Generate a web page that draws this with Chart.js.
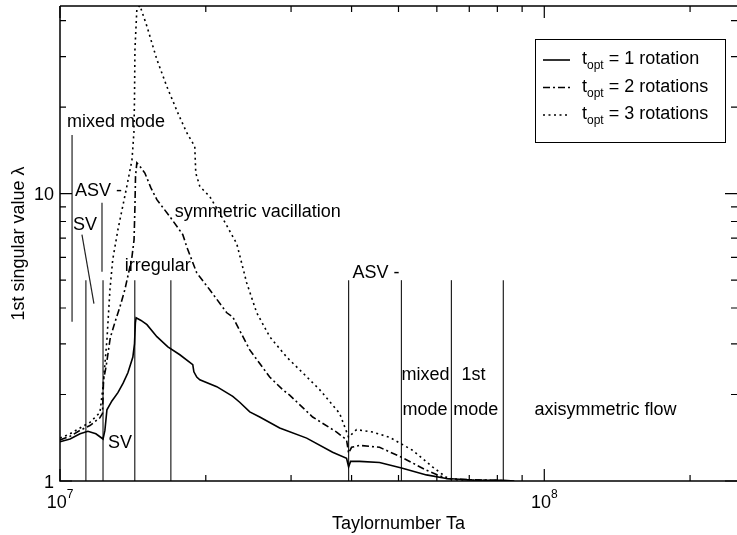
<!DOCTYPE html>
<html>
<head>
<meta charset="utf-8">
<script src="https://cdn.jsdelivr.net/npm/chart.js@4.4.1/dist/chart.umd.min.js"></script>
<style>
html,body{margin:0;padding:0;background:#fff;}
#wrap{width:737px;height:535px;}
</style>
</head>
<body>
<div id="wrap"><canvas id="c" width="737" height="535"></canvas></div>
<script>
// ---- data ----
const taRot1 = [1.000e7,1.049e7,1.100e7,1.142e7,1.186e7,1.227e7,1.238e7,1.250e7,1.280e7,1.317e7,1.350e7,1.381e7,1.414e7,1.425e7,1.431e7,1.436e7,1.470e7,1.512e7,1.585e7,1.670e7,1.768e7,1.880e7,1.890e7,1.916e7,1.944e7,2.107e7,2.274e7,2.350e7,2.465e7,2.585e7,2.842e7,3.231e7,3.655e7,3.906e7,3.944e7,3.981e7,4.155e7,4.569e7,5.072e7,5.710e7,6.279e7,7.105e7,8.231e7,8.672e7];
const lamRot1 = [1.37,1.40,1.46,1.49,1.46,1.40,1.50,1.77,1.90,2.03,2.19,2.38,2.70,3.00,3.55,3.70,3.62,3.50,3.18,2.93,2.75,2.54,2.40,2.30,2.25,2.13,1.97,1.88,1.74,1.67,1.53,1.41,1.26,1.20,1.12,1.17,1.17,1.16,1.11,1.05,1.02,1.008,1.005,1.0];

const taRot2 = [1.000e7,1.049e7,1.100e7,1.153e7,1.209e7,1.224e7,1.230e7,1.245e7,1.270e7,1.298e7,1.330e7,1.361e7,1.390e7,1.408e7,1.422e7,1.428e7,1.432e7,1.441e7,1.460e7,1.497e7,1.540e7,1.585e7,1.686e7,1.793e7,1.827e7,1.916e7,2.038e7,2.210e7,2.274e7,2.465e7,2.710e7,2.883e7,2.980e7,3.324e7,3.725e7,3.906e7,3.944e7,4.000e7,4.155e7,4.569e7,5.072e7,5.710e7,6.279e7,7.000e7,8.000e7,8.500e7];
const lamRot2 = [1.39,1.43,1.50,1.56,1.66,1.72,2.25,2.50,3.15,3.56,4.04,4.63,5.43,6.03,6.90,9.00,11.5,12.8,12.5,11.8,10.5,9.53,8.32,7.20,6.53,5.30,4.63,3.85,3.72,2.86,2.30,2.08,1.99,1.67,1.48,1.39,1.25,1.31,1.33,1.31,1.21,1.09,1.02,1.01,1.005,1.0];

const taRot3 = [1.000e7,1.049e7,1.100e7,1.153e7,1.209e7,1.227e7,1.250e7,1.268e7,1.285e7,1.317e7,1.374e7,1.408e7,1.421e7,1.425e7,1.428e7,1.441e7,1.462e7,1.512e7,1.585e7,1.662e7,1.751e7,1.827e7,1.898e7,1.907e7,1.944e7,2.038e7,2.168e7,2.317e7,2.429e7,2.548e7,2.710e7,2.938e7,3.170e7,3.436e7,3.779e7,3.944e7,4.096e7,4.420e7,4.791e7,5.344e7,5.875e7,6.279e7,6.522e7,7.500e7,8.500e7];
const lamRot3 = [1.41,1.46,1.53,1.60,1.73,2.13,3.10,4.63,5.90,7.49,10.6,13.1,16.3,21.3,31.7,43.8,45.2,38.2,29.3,23.6,19.1,16.3,14.6,11.8,10.6,9.77,8.20,6.70,4.90,3.85,3.18,2.70,2.38,2.08,1.72,1.42,1.51,1.48,1.42,1.28,1.12,1.03,1.01,1.005,1.0];

const seriesNames = ['1 rotation','2 rotations','3 rotations'];

// axis ticks
const xTickValues = [1e7,2e7,3e7,4e7,5e7,6e7,7e7,8e7,9e7,1e8,2e8];
const xMajorValues = [1e7,1e8];
const xMajorExponents = ['7','8'];
const yTickValues = [1,2,3,4,5,6,7,8,9,10,20,30,40];
const yMajorValues = [1,10];
const yMajorLabels = ['1','10'];

// regime boundaries (Ta) and annotation lines / labels (data units)
const boundaryTa = [1.131e7,1.227e7,1.427e7,1.694e7,3.944e7,5.07e7,6.43e7,8.23e7];
const boundaryLam = [1.0,5.0];
const leaderTa0 = [1.059e7,1.221e7,1.110e7];
const leaderLam0 = [16.0,9.3,7.2];
const leaderTa1 = [1.059e7,1.221e7,1.175e7];
const leaderLam1 = [3.58,5.35,4.14];
const regimeText = ['mixed mode','ASV -','SV','irregular','symmetric vacillation','SV','ASV -','mixed','1st','mode','mode','axisymmetric flow'];
const regimeTa = [1.034e7,1.074e7,1.064e7,1.361e7,1.726e7,1.256e7,4.018e7,5.07e7,6.745e7,5.095e7,6.49e7,9.54e7];
const regimeLam = [17.0,9.84,7.49,5.39,8.32,1.30,5.10,2.25,2.25,1.70,1.70,1.70];

const xTitle = 'Taylornumber Ta';
const yTitle = '1st singular value \u03bb';

// ---- chart ----
const FONT = '"Liberation Sans", Arial, Helvetica, sans-serif';
function pts(xs, ys){ return xs.map((x,i)=>({x:x, y:ys[i]})); }

const decor = {
  id: 'decor',
  beforeDatasetsDraw(chart){
    const ctx = chart.ctx, xs = chart.scales.x, ys = chart.scales.y;
    ctx.save();
    ctx.strokeStyle = '#222';
    ctx.lineWidth = 1.2;
    ctx.setLineDash([]);
    boundaryTa.forEach(t=>{
      const px = xs.getPixelForValue(t);
      ctx.beginPath();
      ctx.moveTo(px, ys.getPixelForValue(boundaryLam[1]));
      ctx.lineTo(px, ys.getPixelForValue(boundaryLam[0]));
      ctx.stroke();
    });
    leaderTa0.forEach((t,i)=>{
      ctx.beginPath();
      ctx.moveTo(xs.getPixelForValue(t), ys.getPixelForValue(leaderLam0[i]));
      ctx.lineTo(xs.getPixelForValue(leaderTa1[i]), ys.getPixelForValue(leaderLam1[i]));
      ctx.stroke();
    });
    ctx.restore();
  },
  afterDraw(chart){
    const ctx = chart.ctx, xs = chart.scales.x, ys = chart.scales.y;
    const a = chart.chartArea;
    ctx.save();
    ctx.setLineDash([]);
    ctx.strokeStyle = '#000';
    ctx.fillStyle = '#000';
    // frame
    ctx.lineWidth = 1.5;
    ctx.beginPath();
    ctx.moveTo(a.left, a.top); ctx.lineTo(a.right, a.top);
    ctx.moveTo(a.left, a.top); ctx.lineTo(a.left, a.bottom);
    ctx.lineTo(a.right, a.bottom);
    ctx.stroke();
    // ticks (inward, all four sides)
    ctx.lineWidth = 1.2;
    xTickValues.forEach(v=>{
      const px = xs.getPixelForValue(v);
      const len = xMajorValues.includes(v) ? 12 : 6;
      ctx.beginPath();
      ctx.moveTo(px, a.bottom); ctx.lineTo(px, a.bottom - len);
      ctx.moveTo(px, a.top); ctx.lineTo(px, a.top + len);
      ctx.stroke();
    });
    yTickValues.forEach(v=>{
      const py = ys.getPixelForValue(v);
      const len = yMajorValues.includes(v) ? 12 : 6;
      ctx.beginPath();
      ctx.moveTo(a.left, py); ctx.lineTo(a.left + len, py);
      ctx.moveTo(a.right, py); ctx.lineTo(a.right - len, py);
      ctx.stroke();
    });
    // tick labels
    ctx.font = '18px ' + FONT;
    ctx.textBaseline = 'alphabetic';
    ctx.textAlign = 'right';
    yMajorValues.forEach((v,i)=>{
      ctx.fillText(yMajorLabels[i], a.left - 6, ys.getPixelForValue(v) + 6.5);
    });
    ctx.textAlign = 'left';
    xMajorValues.forEach((v,i)=>{
      ctx.font = '18px ' + FONT;
      const w1 = ctx.measureText('10').width;
      ctx.font = '12px ' + FONT;
      const w2 = ctx.measureText(xMajorExponents[i]).width;
      const x0 = xs.getPixelForValue(v) - (w1 + w2) / 2;
      ctx.font = '18px ' + FONT;
      ctx.fillText('10', x0, a.bottom + 27);
      ctx.font = '12px ' + FONT;
      ctx.fillText(xMajorExponents[i], x0 + w1, a.bottom + 17);
    });
    // axis titles
    ctx.font = '18px ' + FONT;
    ctx.textAlign = 'center';
    ctx.fillText(xTitle, (a.left + a.right) / 2, a.bottom + 48);
    ctx.save();
    ctx.translate(24, (a.top + a.bottom) / 2);
    ctx.rotate(-Math.PI / 2);
    ctx.fillText(yTitle, 0, 0);
    ctx.restore();
    // regime labels
    ctx.textAlign = 'left';
    regimeText.forEach((t,i)=>{
      ctx.fillText(t, xs.getPixelForValue(regimeTa[i]), ys.getPixelForValue(regimeLam[i]));
    });
    // legend
    const lx = 535.5, ly = 39.5, lw = 190, lh = 103;
    ctx.fillStyle = '#fff';
    ctx.fillRect(lx, ly, lw, lh);
    ctx.fillStyle = '#000';
    ctx.lineWidth = 1;
    ctx.strokeRect(lx, ly, lw, lh);
    chart.data.datasets.forEach((ds,i)=>{
      const yLine = 60 + i * 27.5;
      ctx.save();
      ctx.strokeStyle = '#000';
      ctx.lineWidth = ds.borderWidth;
      ctx.setLineDash(ds.borderDash || []);
      ctx.beginPath();
      ctx.moveTo(543, yLine); ctx.lineTo(570, yLine);
      ctx.stroke();
      ctx.restore();
      const base = yLine + 4;
      let x = 582;
      ctx.font = '18px ' + FONT;
      ctx.fillText('t', x, base);
      x += ctx.measureText('t').width;
      ctx.font = '12px ' + FONT;
      ctx.fillText('opt', x, base + 5);
      x += ctx.measureText('opt').width;
      ctx.font = '18px ' + FONT;
      ctx.fillText(' = ' + seriesNames[i], x, base);
    });
    ctx.restore();
  }
};

new Chart(document.getElementById('c'), {
  type: 'line',
  data: {
    datasets: [
      {label: 't_opt = 1 rotation', data: pts(taRot1, lamRot1), borderColor: '#000', borderWidth: 1.6, pointRadius: 0, tension: 0, fill: false},
      {label: 't_opt = 2 rotations', data: pts(taRot2, lamRot2), borderColor: '#000', borderWidth: 1.6, borderDash: [7,3,2,3], pointRadius: 0, tension: 0, fill: false},
      {label: 't_opt = 3 rotations', data: pts(taRot3, lamRot3), borderColor: '#000', borderWidth: 1.6, borderDash: [2,3.5], pointRadius: 0, tension: 0, fill: false}
    ]
  },
  options: {
    responsive: false,
    animation: false,
    devicePixelRatio: 1,
    layout: {padding: {left: 60, right: 0, top: 6, bottom: 54}},
    plugins: {legend: {display: false}, tooltip: {enabled: false}},
    scales: {
      x: {type: 'logarithmic', min: 1e7, max: 2.5e8, display: false},
      y: {type: 'logarithmic', min: 1, max: 45, display: false}
    }
  },
  plugins: [decor]
});
</script>
</body>
</html>
